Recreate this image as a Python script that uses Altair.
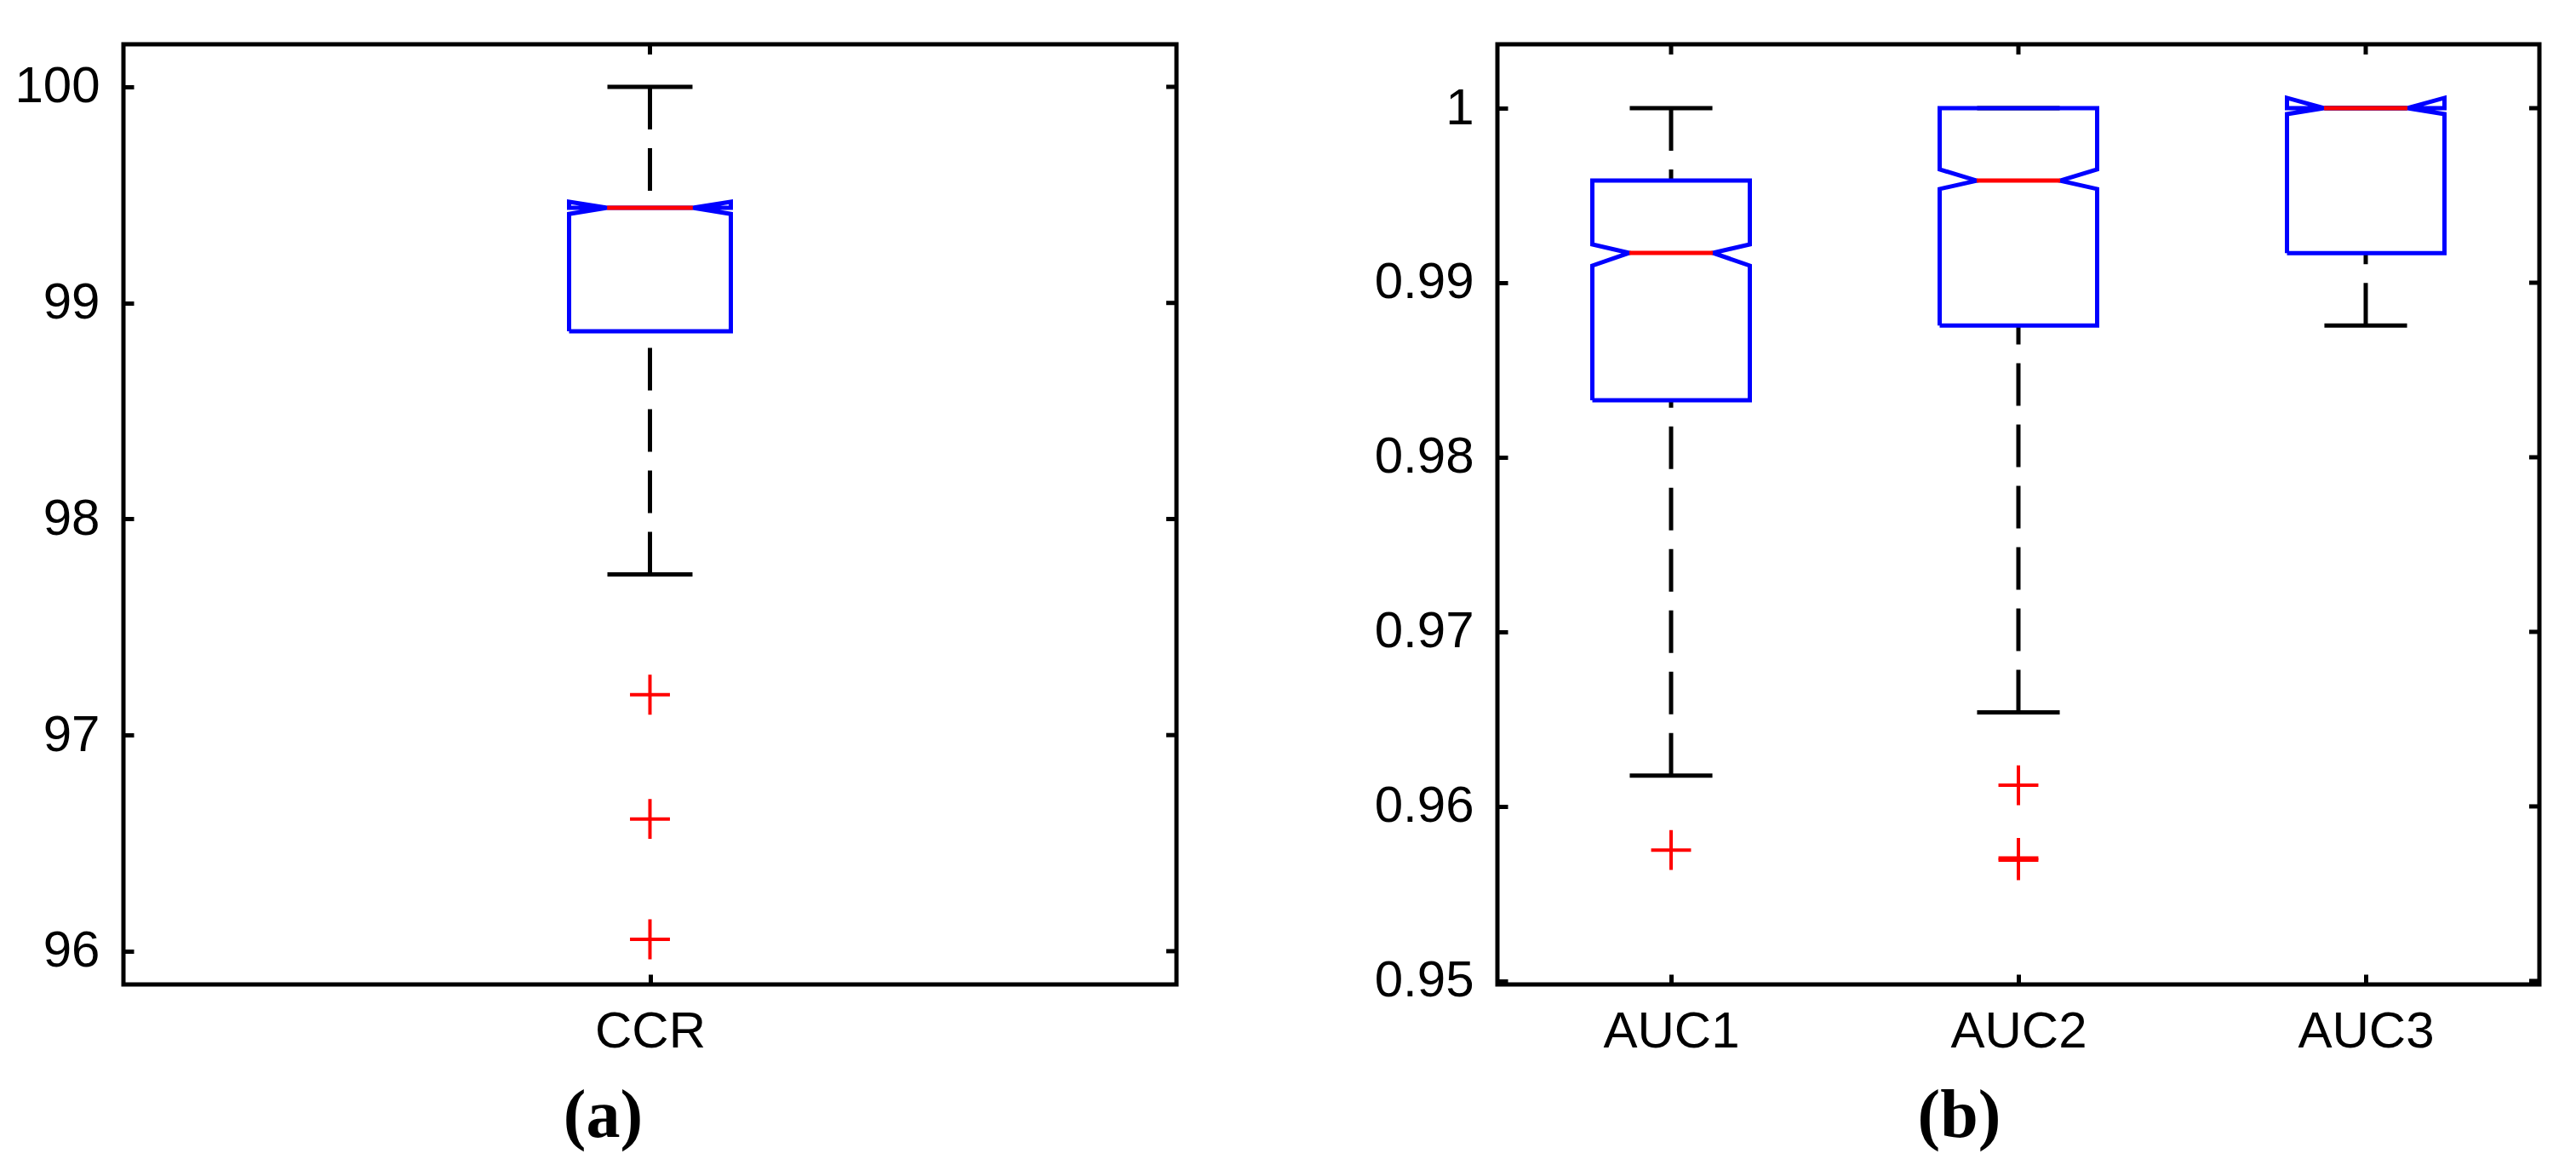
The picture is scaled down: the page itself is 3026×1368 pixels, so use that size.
import altair as alt
import pandas as pd

# ---------------- data: panel (a) ----------------
a_cats = ["CCR"]
a_q1 = [98.869]
a_med = [99.440]
a_q3 = [99.440]
a_notch_lo = [99.412]
a_notch_hi = [99.468]
a_wlo = [97.744]
a_whi = [100.0]
a_out_cat = ["CCR", "CCR", "CCR"]
a_out_val = [97.187, 96.612, 96.055]
a_ticks = [96, 97, 98, 99, 100]
a_domain = [95.846, 100.197]

# ---------------- data: panel (b) ----------------
b_cats = ["AUC1", "AUC2", "AUC3"]
b_q1 = [0.98327, 0.98755, 0.99169]
b_med = [0.99171, 0.99585, 1.0]
b_q3 = [0.99585, 1.0, 1.0]
b_notch_lo = [0.99098, 0.99537, 0.99966]
b_notch_hi = [0.99220, 0.99649, 1.00059]
b_wlo = [0.96176, 0.96539, 0.98755]
b_whi = [1.0, 1.0, 1.0]
b_out_cat = ["AUC1", "AUC2", "AUC2", "AUC2"]
b_out_val = [0.95750, 0.96121, 0.95705, 0.95692]
b_ticks = [0.95, 0.96, 0.97, 0.98, 0.99, 1.0]
b_domain = [0.94980, 1.00366]

# ---------------- style ----------------
H = 1104
W_A = 1237
W_B = 1224
LW = 5
TICK = 12
EXTENT = 135
LABEL_FONT = "Liberation Sans, Arial, sans-serif"
LABEL_SIZE = 60
CAPTION_FONT = "Liberation Serif, Times New Roman, serif"
BLUE = "#0000ff"
RED = "#ff0000"
PLUS = "M-1,0L1,0M0,-1L0,1"


def panel(cats, q1, med, q3, nlo, nhi, wlo, whi, out_cat, out_val, ticks, domain,
          width, hw, ind, cw, yfmt, caption, caption_x):
    pos = {c: i + 1 for i, c in enumerate(cats)}
    xscale = alt.Scale(domain=[0.5, len(cats) + 0.5], nice=False, zero=False)
    yscale = alt.Scale(domain=domain, nice=False, zero=False)
    js_labels = "[" + ",".join("'%s'" % c for c in cats) + "]"

    xaxis = alt.Axis(values=list(range(1, len(cats) + 1)),
                     labelExpr=js_labels + "[round(datum.value)-1]",
                     offset=-TICK, tickSize=TICK, tickWidth=LW, tickColor="black",
                     domain=False, grid=False, labelFont=LABEL_FONT, labelFontSize=LABEL_SIZE,
                     labelColor="black", labelPadding=26, labelFlush=False, labelOverlap=False,
                     title=caption, titleFont=CAPTION_FONT, titleFontSize=80,
                     titleFontWeight="bold", titleColor="black", titleX=caption_x, titleY=190,
                     titleBaseline="alphabetic", titleAlign="center")
    yaxis = alt.Axis(values=ticks, format=yfmt, offset=-TICK, tickSize=TICK, tickWidth=LW,
                     tickColor="black", domain=False, grid=False, labelFont=LABEL_FONT,
                     labelFontSize=LABEL_SIZE, labelColor="black", labelPadding=28,
                     labelOverlap=False, labelFlush=False, title=None,
                     minExtent=EXTENT, maxExtent=EXTENT)

    # notched box outline polygons
    rows = []
    for i, c in enumerate(cats):
        x = pos[c]
        L, R = x - hw, x + hw
        pts = [(L, q1[i]), (R, q1[i]), (R, nlo[i]), (R - ind, med[i]), (R, nhi[i]),
               (R, q3[i]), (L, q3[i]), (L, nhi[i]), (L + ind, med[i]), (L, nlo[i]), (L, q1[i])]
        for k, (px, py) in enumerate(pts):
            rows.append({"cat": c, "x": px, "y": py, "k": k})
    box_df = pd.DataFrame(rows)

    stats = pd.DataFrame({
        "cat": cats,
        "pos": [pos[c] for c in cats],
        "q1": q1, "q3": q3, "med": med, "wlo": wlo, "whi": whi,
    })
    stats["capL"] = stats["pos"] - cw
    stats["capR"] = stats["pos"] + cw
    stats["medL"] = stats["pos"] - hw + ind
    stats["medR"] = stats["pos"] + hw - ind

    out_df = pd.DataFrame({"pos": [pos[c] for c in out_cat], "v": out_val})
    tick_df = pd.DataFrame({"v": ticks})
    pos_df = pd.DataFrame({"pos": list(range(1, len(cats) + 1))})

    base = alt.Chart(stats)

    cap_hi = base.mark_rule(color="black", strokeWidth=LW).encode(
        x=alt.X("capL:Q", scale=xscale, axis=xaxis), x2="capR:Q",
        y=alt.Y("whi:Q", scale=yscale, axis=yaxis))
    cap_lo = base.mark_rule(color="black", strokeWidth=LW).encode(
        x=alt.X("capL:Q", scale=xscale), x2="capR:Q", y=alt.Y("wlo:Q", scale=yscale))
    wh_hi = base.mark_rule(color="black", strokeWidth=LW, strokeDash=[50, 22]).encode(
        x=alt.X("pos:Q", scale=xscale), y=alt.Y("whi:Q", scale=yscale), y2="q3:Q")
    wh_lo = base.mark_rule(color="black", strokeWidth=LW, strokeDash=[50, 22]).encode(
        x=alt.X("pos:Q", scale=xscale), y=alt.Y("wlo:Q", scale=yscale), y2="q1:Q")
    boxes = alt.Chart(box_df).mark_line(color=BLUE, strokeWidth=LW, strokeJoin="miter").encode(
        x=alt.X("x:Q", scale=xscale), y=alt.Y("y:Q", scale=yscale),
        detail="cat:N", order="k:Q")
    medians = base.mark_rule(color=RED, strokeWidth=LW).encode(
        x=alt.X("medL:Q", scale=xscale), x2="medR:Q", y=alt.Y("med:Q", scale=yscale))
    outliers = alt.Chart(out_df).mark_point(shape=PLUS, filled=False, color=RED,
                                            strokeWidth=4, size=2200, opacity=1).encode(
        x=alt.X("pos:Q", scale=xscale), y=alt.Y("v:Q", scale=yscale))
    rticks = alt.Chart(tick_df).mark_rule(color="black", strokeWidth=LW).encode(
        y=alt.Y("v:Q", scale=yscale), x=alt.value(width - TICK), x2=alt.value(width))
    tticks = alt.Chart(pos_df).mark_rule(color="black", strokeWidth=LW).encode(
        x=alt.X("pos:Q", scale=xscale), y=alt.value(0), y2=alt.value(TICK))

    return alt.layer(cap_hi, cap_lo, wh_hi, wh_lo, boxes, medians, outliers, rticks, tticks
                     ).properties(width=width, height=H)


pa = panel(a_cats, a_q1, a_med, a_q3, a_notch_lo, a_notch_hi, a_wlo, a_whi,
           a_out_cat, a_out_val, a_ticks, a_domain, W_A,
           hw=0.0768, ind=0.0361, cw=0.0404, yfmt="d", caption="(a)", caption_x=563)
pb = panel(b_cats, b_q1, b_med, b_q3, b_notch_lo, b_notch_hi, b_wlo, b_whi,
           b_out_cat, b_out_val, b_ticks, b_domain, W_B,
           hw=0.2267, ind=0.1066, cw=0.119, yfmt=".2~f", caption="(b)", caption_x=542)

chart = alt.hconcat(pa, pb, spacing=224).properties(
    padding={"left": 6, "top": 39, "right": 0, "bottom": 0},
    background="white",
).configure_view(stroke="black", strokeWidth=LW)

chart.save("out.html", embed_options={"renderer": "svg", "actions": False})
